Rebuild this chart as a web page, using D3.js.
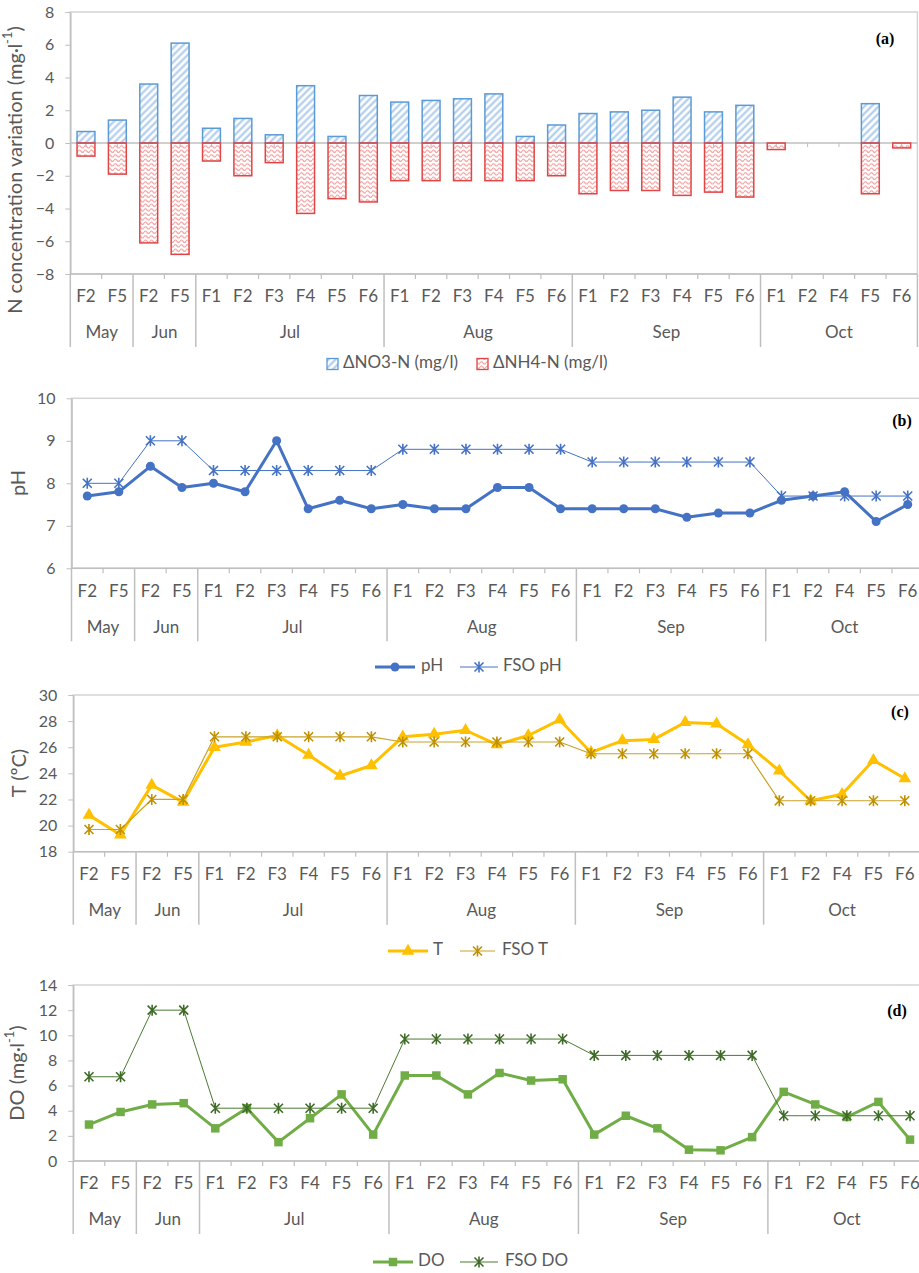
<!DOCTYPE html>
<html>
<head>
<meta charset="utf-8">
<script src="https://cdn.jsdelivr.net/npm/d3@7"></script>
<style>
  body { margin: 0; background: #fff; }
  text { font-family: Lato, "Open Sans", sans-serif; fill: #595959; }
</style>
</head>
<body>
<svg id="chart" width="919" height="1273"></svg>
<script>
// Categories
const months = ['May', 'Jun', 'Jul', 'Aug', 'Sep', 'Oct'];
const monthSizes = [2, 2, 6, 6, 6, 5];
const sites = ['F2','F5','F2','F5','F1','F2','F3','F4','F5','F6','F1','F2','F3','F4','F5','F6',
               'F1','F2','F3','F4','F5','F6','F1','F2','F4','F5','F6'];

// (a) N concentration variation
const dNO3 = [0.7, 1.4, 3.6, 6.1, 0.9, 1.5, 0.5, 3.5, 0.4, 2.9, 2.5, 2.6, 2.7, 3.0, 0.4, 1.1,
              1.8, 1.9, 2.0, 2.8, 1.9, 2.3, 0, 0, 0, 2.4, 0];
const dNH4 = [-0.8, -1.9, -6.1, -6.8, -1.1, -2.0, -1.2, -4.3, -3.4, -3.6, -2.3, -2.3, -2.3, -2.3, -2.3, -2.0,
              -3.1, -2.9, -2.9, -3.2, -3.0, -3.3, -0.4, 0, 0, -3.1, -0.3];

// (b) pH
const pH    = [7.7, 7.8, 8.4, 7.9, 8.0, 7.8, 9.0, 7.4, 7.6, 7.4, 7.5, 7.4, 7.4, 7.9, 7.9, 7.4,
               7.4, 7.4, 7.4, 7.2, 7.3, 7.3, 7.6, 7.7, 7.8, 7.1, 7.5];
const fsoPH = [8.0, 8.0, 9.0, 9.0, 8.3, 8.3, 8.3, 8.3, 8.3, 8.3, 8.8, 8.8, 8.8, 8.8, 8.8, 8.8,
               8.5, 8.5, 8.5, 8.5, 8.5, 8.5, 7.7, 7.7, 7.7, 7.7, 7.7];

// (c) temperature
const temp    = [20.8, 19.3, 23.1, 21.8, 26.0, 26.4, 26.9, 25.4, 23.8, 24.6, 26.8, 27.0, 27.3, 26.2, 26.9, 28.1,
                 25.6, 26.5, 26.6, 27.9, 27.8, 26.2, 24.2, 21.9, 22.4, 25.0, 23.6];
const fsoTemp = [19.7, 19.7, 22.0, 22.0, 26.8, 26.8, 26.8, 26.8, 26.8, 26.8, 26.4, 26.4, 26.4, 26.4, 26.4, 26.4,
                 25.5, 25.5, 25.5, 25.5, 25.5, 25.5, 21.9, 21.9, 21.9, 21.9, 21.9];

// (d) dissolved oxygen
const dOx   = [2.9, 3.9, 4.5, 4.6, 2.6, 4.2, 1.5, 3.4, 5.3, 2.1, 6.8, 6.8, 5.3, 7.0, 6.4, 6.5,
               2.1, 3.6, 2.6, 0.9, 0.85, 1.9, 5.5, 4.5, 3.5, 4.7, 1.7];
const fsoDO = [6.7, 6.7, 12.0, 12.0, 4.2, 4.2, 4.2, 4.2, 4.2, 4.2, 9.7, 9.7, 9.7, 9.7, 9.7, 9.7,
               8.4, 8.4, 8.4, 8.4, 8.4, 8.4, 3.6, 3.6, 3.6, 3.6, 3.6];

const svg = d3.select('#chart');

// Patterns for the bar fills
const defs = svg.append('defs');
const stripes = defs.append('pattern')
  .attr('id', 'stripes')
  .attr('patternUnits', 'userSpaceOnUse')
  .attr('width', 5).attr('height', 5)
  .attr('patternTransform', 'rotate(45)');
stripes.append('line')
  .attr('x1', 1.5).attr('y1', 0).attr('x2', 1.5).attr('y2', 5)
  .attr('stroke', '#a9c8ea').attr('stroke-width', 2);

const waves = defs.append('pattern')
  .attr('id', 'waves')
  .attr('patternUnits', 'userSpaceOnUse')
  .attr('width', 6).attr('height', 4.5);
waves.append('path')
  .attr('d', 'M0,2.8 Q1.5,0.6 3,2.8 T6,2.8')
  .attr('fill', 'none')
  .attr('stroke', '#f29a9a').attr('stroke-width', 1.2);

const starPath = 'M-4.5,-4.5L4.5,4.5M-4.5,4.5L4.5,-4.5M0,-5.5L0,5.5';

function drawMarker(sel, kind, color) {
  if (kind === 'circle') {
    sel.append('circle').attr('r', 4.5).attr('fill', color);
  } else if (kind === 'triangle') {
    sel.append('path').attr('d', d3.symbol(d3.symbolTriangle, 70)()).attr('fill', color);
  } else if (kind === 'square') {
    sel.append('path').attr('d', d3.symbol(d3.symbolSquare, 72)()).attr('fill', color);
  } else if (kind === 'star') {
    sel.append('path').attr('d', starPath).attr('fill', 'none')
      .attr('stroke', color).attr('stroke-width', 1.6);
  }
}

function drawPanel(cfg) {
  const g = svg.append('g');
  const n = sites.length;
  const x = d3.scaleBand().domain(d3.range(n))
    .range([cfg.left, cfg.right]).paddingInner(0.43).paddingOuter(0.215);
  const step = x.step();
  const cx = i => x(i) + x.bandwidth() / 2;
  const y = d3.scaleLinear().domain(cfg.domain).range([cfg.bottom, cfg.top]);

  // plot area border
  g.append('rect')
    .attr('x', cfg.left).attr('y', cfg.top)
    .attr('width', cfg.right - cfg.left).attr('height', cfg.bottom - cfg.top)
    .attr('fill', 'none').attr('stroke', '#d4d4d4').attr('stroke-width', 1.5);

  // value axis
  const yAxis = g.append('g')
    .attr('transform', `translate(${cfg.left},0)`)
    .call(d3.axisLeft(y).tickValues(cfg.ticks).tickFormat(d3.format('~g'))
      .tickSize(5).tickPadding(11).tickSizeOuter(0));
  yAxis.select('.domain').attr('stroke', '#bfbfbf').attr('stroke-width', 1.5);
  yAxis.selectAll('.tick line').attr('stroke', '#bfbfbf');
  yAxis.selectAll('.tick text').attr('font-size', 16).attr('fill', '#595959')
    .style('font-family', 'Lato, sans-serif');

  // category axis: ticks and month separators
  const bounds = d3.cumsum(monthSizes);
  for (let i = 0; i <= n; i++) {
    const bx = cfg.left + i * step;
    const isMonth = i === 0 || bounds.includes(i);
    g.append('line')
      .attr('x1', bx).attr('x2', bx)
      .attr('y1', cfg.bottom).attr('y2', cfg.bottom + (isMonth ? 73 : 5))
      .attr('stroke', '#bfbfbf').attr('stroke-width', isMonth ? 1.5 : 1.2);
  }
  g.append('line')
    .attr('x1', cfg.left).attr('x2', cfg.right)
    .attr('y1', cfg.bottom).attr('y2', cfg.bottom)
    .attr('stroke', '#bfbfbf').attr('stroke-width', 1.5);

  g.selectAll('.site').data(sites).join('text')
    .attr('x', (d, i) => cx(i)).attr('y', cfg.bottom + 24)
    .attr('text-anchor', 'middle').attr('dominant-baseline', 'middle')
    .attr('font-size', 17).text(d => d);

  let start = 0;
  months.forEach((m, k) => {
    const end = start + monthSizes[k];
    g.append('text')
      .attr('x', cfg.left + (start + end) / 2 * step).attr('y', cfg.bottom + 60)
      .attr('text-anchor', 'middle').attr('dominant-baseline', 'middle')
      .attr('font-size', 17).text(m);
    start = end;
  });

  // axis title
  const title = g.append('text')
    .attr('transform', `translate(${cfg.titleX},${cfg.titleY}) rotate(-90)`)
    .attr('text-anchor', 'middle').attr('dominant-baseline', 'middle')
    .attr('font-size', 20);
  title.append('tspan').text(cfg.title[0]);
  if (cfg.title.length > 1) {
    title.append('tspan').attr('baseline-shift', 'super').attr('font-size', 13).text(cfg.title[1]);
    title.append('tspan').text(cfg.title[2]);
  }

  // panel label
  g.append('text')
    .attr('x', cfg.labelX).attr('y', cfg.labelY)
    .attr('text-anchor', 'middle').attr('dominant-baseline', 'middle')
    .attr('font-size', 16).attr('font-weight', 'bold')
    .style('font-family', '"Liberation Serif", "DejaVu Serif", serif')
    .style('fill', '#000')
    .text(cfg.label);

  return { g, x, y, cx };
}

// ---------- Panel (a): bars ----------
(function () {
  const p = drawPanel({
    left: 70.3, right: 917.4, top: 12, bottom: 274, domain: [-8, 8],
    ticks: [-8, -6, -4, -2, 0, 2, 4, 6, 8],
    titleX: 17, titleY: 170, title: ['N concentration variation (mg·l', '-1', ')'],
    label: '(a)', labelX: 885, labelY: 40
  });
  const { g, x, y, cx } = p;

  g.append('line')
    .attr('x1', 70.3).attr('x2', 917.4).attr('y1', y(0)).attr('y2', y(0))
    .attr('stroke', '#bfbfbf').attr('stroke-width', 1.5);
  g.selectAll('.zt').data(sites).join('line')
    .attr('x1', (d, i) => cx(i)).attr('x2', (d, i) => cx(i))
    .attr('y1', y(0)).attr('y2', y(0) + 4)
    .attr('stroke', '#bfbfbf');

  const no3 = dNO3.map((v, i) => ({ v, i })).filter(d => d.v !== 0);
  const nh4 = dNH4.map((v, i) => ({ v, i })).filter(d => d.v !== 0);

  g.selectAll('.no3').data(no3).join('rect')
    .attr('x', d => x(d.i)).attr('width', x.bandwidth())
    .attr('y', d => y(d.v)).attr('height', d => y(0) - y(d.v))
    .attr('fill', 'url(#stripes)').attr('stroke', '#5b9bd5').attr('stroke-width', 1.5);

  g.selectAll('.nh4').data(nh4).join('rect')
    .attr('x', d => x(d.i)).attr('width', x.bandwidth())
    .attr('y', y(0)).attr('height', d => y(d.v) - y(0))
    .attr('fill', 'url(#waves)').attr('stroke', '#e04646').attr('stroke-width', 1.5);

  // legend
  const lg = svg.append('g');
  const items = [
    { x: 327, tx: 343, fill: 'url(#stripes)', stroke: '#5b9bd5', text: 'ΔNO3-N (mg/l)' },
    { x: 477, tx: 493, fill: 'url(#waves)', stroke: '#e04646', text: 'ΔNH4-N (mg/l)' }
  ];
  items.forEach(it => {
    lg.append('rect').attr('x', it.x).attr('y', 358.5).attr('width', 11).attr('height', 11)
      .attr('fill', it.fill).attr('stroke', it.stroke).attr('stroke-width', 1.3);
    lg.append('text').attr('x', it.tx).attr('y', 364)
      .attr('dominant-baseline', 'middle').attr('font-size', 17).text(it.text);
  });
})();

// ---------- Line panels ----------
function linePanel(cfg) {
  const { g, y, cx } = drawPanel(cfg);
  const line = d3.line().x((d, i) => cx(i)).y(d => y(d));
  cfg.series.forEach(s => {
    g.append('path').datum(s.values)
      .attr('d', line).attr('fill', 'none')
      .attr('stroke', s.color).attr('stroke-width', s.width)
      .attr('stroke-linejoin', 'round');
    g.selectAll(null).data(s.values).join('g')
      .attr('transform', (d, i) => `translate(${cx(i)},${y(d)})`)
      .each(function () { drawMarker(d3.select(this), s.marker, s.markerColor || s.color); });
  });
  // legend
  cfg.series.forEach(s => {
    const lg = svg.append('g');
    lg.append('line').attr('x1', s.lx0).attr('x2', s.lx1)
      .attr('y1', cfg.legendY).attr('y2', cfg.legendY)
      .attr('stroke', s.color).attr('stroke-width', s.width);
    drawMarker(lg.append('g').attr('transform', `translate(${(s.lx0 + s.lx1) / 2},${cfg.legendY})`),
      s.marker, s.markerColor || s.color);
    lg.append('text').attr('x', s.tx).attr('y', cfg.legendY)
      .attr('dominant-baseline', 'middle').attr('font-size', 17).text(s.name);
  });
}

linePanel({
  left: 71.5, right: 923.5, top: 398.3, bottom: 568.3, domain: [6, 10],
  ticks: [6, 7, 8, 9, 10],
  titleX: 20, titleY: 483, title: ['pH'],
  label: '(b)', labelX: 902, labelY: 422, legendY: 667,
  series: [
    { name: 'pH', values: pH, color: '#4472c4', width: 3, marker: 'circle', lx0: 375, lx1: 415, tx: 421 },
    { name: 'FSO pH', values: fsoPH, color: '#4472c4', width: 1, marker: 'star', lx0: 460, lx1: 498, tx: 503 }
  ]
});

linePanel({
  left: 73.3, right: 920.5, top: 695, bottom: 851.7, domain: [18, 30],
  ticks: [18, 20, 22, 24, 26, 28, 30],
  titleX: 21, titleY: 773, title: ['T (ºC)'],
  label: '(c)', labelX: 900, labelY: 713, legendY: 951,
  series: [
    { name: 'T', values: temp, color: '#ffc000', width: 3, marker: 'triangle', lx0: 388, lx1: 428, tx: 433 },
    { name: 'FSO T', values: fsoTemp, color: '#c9a227', markerColor: '#bf9000', width: 1.2, marker: 'star', lx0: 460, lx1: 495, tx: 502 }
  ]
});

linePanel({
  left: 73.2, right: 925.8, top: 985, bottom: 1161, domain: [0, 14],
  ticks: [0, 2, 4, 6, 8, 10, 12, 14],
  titleX: 19, titleY: 1073, title: ['DO (mg·l', '-1', ')'],
  label: '(d)', labelX: 897, labelY: 1012, legendY: 1262,
  series: [
    { name: 'DO', values: dOx, color: '#70ad47', width: 3, marker: 'square', lx0: 373, lx1: 413, tx: 418 },
    { name: 'FSO DO', values: fsoDO, color: '#4a7a30', markerColor: '#3f6b28', width: 1, marker: 'star', lx0: 460, lx1: 498, tx: 505 }
  ]
});
</script>
</body>
</html>
